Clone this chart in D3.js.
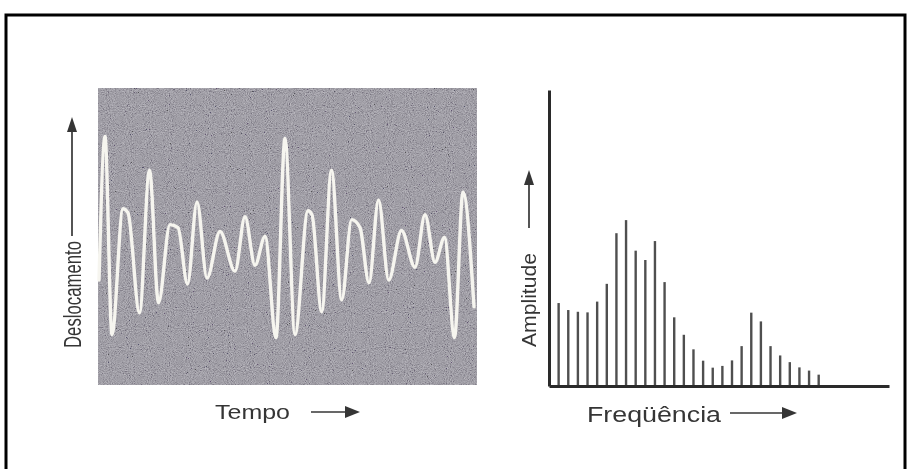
<!DOCTYPE html>
<html>
<head>
<meta charset="utf-8">
<script src="https://cdn.jsdelivr.net/npm/d3@7"></script>
<style>
  html, body { margin: 0; padding: 0; background: #ffffff; }
  svg { display: block; }
  text { font-family: "Liberation Sans", Arial, Helvetica, sans-serif; fill: #363636; }
</style>
</head>
<body>
<svg id="chart" width="909" height="469"></svg>
<script>
// Time signal: displacement (arbitrary units) sampled at its turning points
const tempo = [1, 7, 14, 25, 30, 41.5, 51.5, 60.5, 72, 80, 89.5, 99, 109, 122, 137, 147, 157, 167, 178,
  187, 197, 210, 214, 223.7, 233.5, 243.7, 253.7, 262, 271, 280.5, 290.7, 303.5, 317, 327, 337, 346.5,
  356.5, 365, 376];
const deslocamento = [-0.44, 1.01, -0.99, 0.28, 0.24, -0.77, 0.67, -0.67, 0.12, 0.09, -0.48, 0.35, -0.42,
  0.05, -0.35, 0.20, -0.29, 0.00, -1.02, 0.99, -0.99, 0.26, 0.22, -0.76, 0.67, -0.64, 0.17, 0.09, -0.47,
  0.37, -0.44, 0.06, -0.31, 0.22, -0.26, -0.01, -1.02, 0.45, -0.71];

// Spectrum: amplitude of each frequency line
const frequencia = d3.range(1, 29);
const amplitude = [28.5, 26.1, 25.5, 25.3, 29.0, 35.1, 52.5, 57.0, 46.5, 43.3, 49.8, 35.7, 23.6, 17.6,
  12.6, 8.7, 6.3, 6.9, 8.8, 13.7, 25.2, 22.2, 13.7, 10.5, 8.2, 6.4, 5.3, 3.9];

// Axis captions
const labelTempo = "Tempo";
const labelDeslocamento = "Deslocamento";
const labelFrequencia = "Freqüência";
const labelAmplitude = "Amplitude";

const svg = d3.select("#chart");

// Outer frame
svg.append("rect")
  .attr("x", 6).attr("y", 15).attr("width", 899).attr("height", 470)
  .attr("fill", "none").attr("stroke", "#000").attr("stroke-width", 3);

const defs = svg.append("defs");
const grain = defs.append("filter").attr("id", "grain")
  .attr("x", 0).attr("y", 0).attr("width", "100%").attr("height", "100%");
grain.append("feTurbulence").attr("type", "fractalNoise")
  .attr("baseFrequency", "0.95").attr("numOctaves", 2).attr("seed", 7);
grain.append("feColorMatrix").attr("type", "matrix")
  .attr("values", "0.8 0.8 0.8 0 -0.72  0.8 0.8 0.8 0 -0.74  0.85 0.85 0.85 0 -0.72  0 0 0 0 0.42");

const soft = defs.append("filter").attr("id", "soft");
soft.append("feGaussianBlur").attr("stdDeviation", 0.45);

// ---------- Left panel: displacement vs time ----------
const xT = d3.scaleLinear().domain([0, 379]).range([98, 477]);
const yD = d3.scaleLinear().domain([-1.5, 1.5]).range([385, 88]);

const left = svg.append("g");
left.append("rect")
  .attr("x", xT(0)).attr("y", yD(1.5))
  .attr("width", xT(379) - xT(0)).attr("height", yD(-1.5) - yD(1.5))
  .attr("fill", "#8f8e90");
left.append("rect")
  .attr("x", xT(0)).attr("y", yD(1.5))
  .attr("width", xT(379) - xT(0)).attr("height", yD(-1.5) - yD(1.5))
  .attr("filter", "url(#grain)");

const wave = d3.line()
  .x((d, i) => xT(tempo[i]))
  .y(d => yD(d))
  .curve(d3.curveMonotoneX);

left.append("path")
  .datum(deslocamento)
  .attr("d", wave)
  .attr("fill", "none")
  .attr("stroke", "#f6f5ef")
  .attr("stroke-width", 3.4)
  .attr("stroke-linejoin", "round")
  .attr("stroke-linecap", "round")
  .attr("filter", "url(#soft)");

// ---------- Right panel: amplitude spectrum ----------
const xF = d3.scaleLinear().domain([0, 35.3]).range([549, 889]);
const yA = d3.scaleLinear().domain([0, 101.7]).range([386, 90]);

const right = svg.append("g").attr("filter", "url(#soft)");

right.selectAll("line.bar")
  .data(amplitude)
  .join("line")
  .attr("class", "bar")
  .attr("x1", (d, i) => xF(frequencia[i]))
  .attr("x2", (d, i) => xF(frequencia[i]))
  .attr("y1", yA(0))
  .attr("y2", d => yA(d))
  .attr("stroke", "#505050")
  .attr("stroke-width", 2.4);

// Axes drawn without ticks
const axisX = d3.axisBottom(xF).tickValues([]).tickSizeOuter(0);
const axisY = d3.axisLeft(yA).tickValues([]).tickSizeOuter(0);
right.append("g").attr("transform", `translate(0,${yA(0)})`).call(axisX)
  .select(".domain").attr("stroke", "#2a2a2a").attr("stroke-width", 3);
right.append("g").attr("transform", `translate(${xF(0)},0)`).call(axisY)
  .select(".domain").attr("stroke", "#2a2a2a").attr("stroke-width", 3);

// ---------- Captions and arrows ----------
const cap = svg.append("g").attr("filter", "url(#soft)");

function arrowUp(x, yFrom, yTip) {
  cap.append("line").attr("x1", x).attr("x2", x).attr("y1", yFrom).attr("y2", yTip + 12)
    .attr("stroke", "#363636").attr("stroke-width", 1.7);
  cap.append("path")
    .attr("d", `M${x},${yTip} L${x - 5},${yTip + 15} L${x + 5},${yTip + 15} Z`)
    .attr("fill", "#363636");
}
function arrowRight(y, xFrom, xTip) {
  cap.append("line").attr("x1", xFrom).attr("x2", xTip - 12).attr("y1", y).attr("y2", y)
    .attr("stroke", "#363636").attr("stroke-width", 1.7);
  cap.append("path")
    .attr("d", `M${xTip},${y} L${xTip - 15},${y - 6} L${xTip - 15},${y + 6} Z`)
    .attr("fill", "#363636");
}

cap.append("text")
  .attr("transform", "translate(81,348) rotate(-90)")
  .attr("font-size", 23)
  .attr("textLength", 107).attr("lengthAdjust", "spacingAndGlyphs")
  .text(labelDeslocamento);
arrowUp(72, 236, 117);

cap.append("text")
  .attr("transform", "translate(536,347) rotate(-90)")
  .attr("font-size", 21)
  .attr("textLength", 94).attr("lengthAdjust", "spacingAndGlyphs")
  .text(labelAmplitude);
arrowUp(529, 228, 170);

cap.append("text")
  .attr("x", 215).attr("y", 419)
  .attr("font-size", 21)
  .attr("textLength", 75).attr("lengthAdjust", "spacingAndGlyphs")
  .text(labelTempo);
arrowRight(412, 311, 360);

cap.append("text")
  .attr("x", 587).attr("y", 422)
  .attr("font-size", 22)
  .attr("textLength", 134).attr("lengthAdjust", "spacingAndGlyphs")
  .text(labelFrequencia);
arrowRight(413, 730, 797);
</script>
</body>
</html>
